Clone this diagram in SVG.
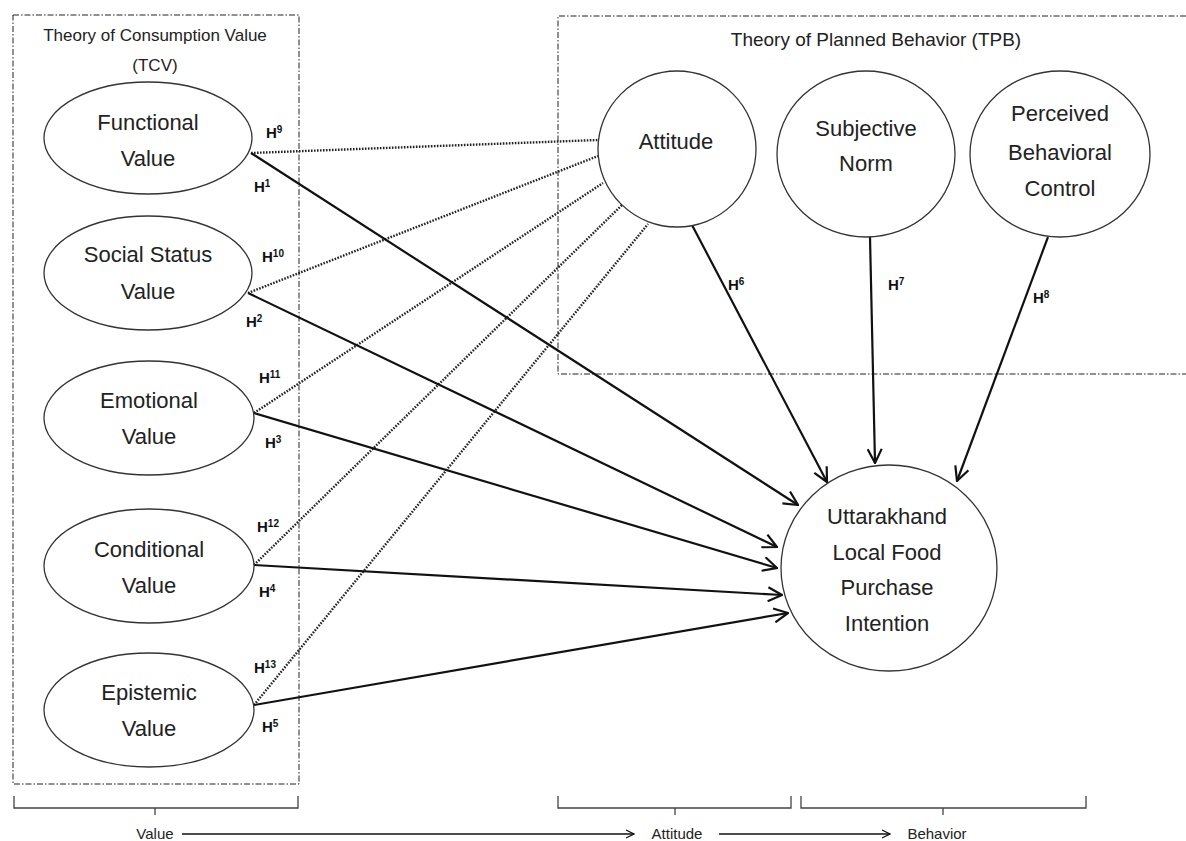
<svg xmlns="http://www.w3.org/2000/svg" width="1186" height="841" viewBox="0 0 1186 841">
<style>
.frame{fill:none;stroke:#222;stroke-width:1;stroke-dasharray:6 2 1.5 2}
.node{fill:#fff;stroke:#333;stroke-width:1.3}
.lbl{font-family:"Liberation Sans",Arial,sans-serif;font-size:22px;fill:#222;text-anchor:middle}
.title{font-family:"Liberation Sans",Arial,sans-serif;fill:#222;text-anchor:middle}
.h{font-family:"Liberation Sans",Arial,sans-serif;font-size:15px;font-weight:bold;fill:#111}
.sup{font-size:10px}
.solid{fill:none;stroke:#111;stroke-width:2.2;marker-end:url(#arr)}
.dot{fill:none;stroke:#222;stroke-width:2.4;stroke-dasharray:1.6 1.4}
.brace{fill:none;stroke:#444;stroke-width:1.3}
.flow{fill:none;stroke:#111;stroke-width:1.3;marker-end:url(#sarr)}
.axis{font-family:"Liberation Sans",Arial,sans-serif;font-size:15px;fill:#222;text-anchor:middle}
</style>
<defs>
<marker id="arr" viewBox="0 0 16 16" refX="15" refY="8" markerWidth="16" markerHeight="16" markerUnits="userSpaceOnUse" orient="auto">
<path d="M1,1 L15,8 L1,15" fill="none" stroke="#111" stroke-width="2.2"/>
</marker>
<marker id="sarr" viewBox="0 0 10 10" refX="9" refY="5" markerWidth="10" markerHeight="10" markerUnits="userSpaceOnUse" orient="auto">
<path d="M1,1 L9,5 L1,9" fill="none" stroke="#111" stroke-width="1.3"/>
</marker>
</defs>
<rect width="1186" height="841" fill="#fff"/>

<g id="tcv-frame">
<rect class="frame" x="13" y="15" width="286" height="769"/>
<text class="title" x="155" y="41" font-size="17">Theory of Consumption Value</text>
<text class="title" x="155" y="71" font-size="17">(TCV)</text>
</g>
<g id="tpb-frame">
<path class="frame" d="M1186,16 H558 V374 H1186"/>
<text class="title" x="876" y="46" font-size="19">Theory of Planned Behavior (TPB)</text>
</g>

<g id="connectors">
<path class="dot" d="M251,153 L598,140"/>
<path class="dot" d="M248,293 L598,156"/>
<path class="dot" d="M254,413 L603,183"/>
<path class="dot" d="M254,565 L622,205"/>
<path class="dot" d="M254,705 L648,224"/>
<path class="solid" d="M251,153 L798,505"/>
<path class="solid" d="M248,293 L777,547"/>
<path class="solid" d="M254,413 L777,568"/>
<path class="solid" d="M254,565 L782,595"/>
<path class="solid" d="M254,705 L788,613"/>
<path class="solid" d="M692,225 L827,482"/>
<path class="solid" d="M870,237 L875,463"/>
<path class="solid" d="M1048,237 L957,481"/>
<text class="h" x="266" y="138">H<tspan class="sup" dy="-5">9</tspan></text>
<text class="h" x="254" y="192">H<tspan class="sup" dy="-5">1</tspan></text>
<text class="h" x="262" y="262">H<tspan class="sup" dy="-5">10</tspan></text>
<text class="h" x="246" y="327">H<tspan class="sup" dy="-5">2</tspan></text>
<text class="h" x="259" y="383">H<tspan class="sup" dy="-5">11</tspan></text>
<text class="h" x="265" y="448">H<tspan class="sup" dy="-5">3</tspan></text>
<text class="h" x="257" y="532">H<tspan class="sup" dy="-5">12</tspan></text>
<text class="h" x="259" y="597">H<tspan class="sup" dy="-5">4</tspan></text>
<text class="h" x="254" y="673">H<tspan class="sup" dy="-5">13</tspan></text>
<text class="h" x="262" y="732">H<tspan class="sup" dy="-5">5</tspan></text>
<text class="h" x="728" y="290">H<tspan class="sup" dy="-5">6</tspan></text>
<text class="h" x="888" y="290">H<tspan class="sup" dy="-5">7</tspan></text>
<text class="h" x="1033" y="303">H<tspan class="sup" dy="-5">8</tspan></text>
</g>

<g id="functional">
<ellipse class="node" cx="148" cy="138" rx="104" ry="56"/>
<text class="lbl" x="148" y="130">Functional</text>
<text class="lbl" x="148" y="166">Value</text>
</g>
<g id="social">
<ellipse class="node" cx="148" cy="273" rx="104" ry="57"/>
<text class="lbl" x="148" y="262">Social Status</text>
<text class="lbl" x="148" y="299">Value</text>
</g>
<g id="emotional">
<ellipse class="node" cx="149" cy="418" rx="105" ry="57"/>
<text class="lbl" x="149" y="408">Emotional</text>
<text class="lbl" x="149" y="444">Value</text>
</g>
<g id="conditional">
<ellipse class="node" cx="149" cy="566" rx="105" ry="57"/>
<text class="lbl" x="149" y="557">Conditional</text>
<text class="lbl" x="149" y="593">Value</text>
</g>
<g id="epistemic">
<ellipse class="node" cx="149" cy="710" rx="105" ry="57"/>
<text class="lbl" x="149" y="700">Epistemic</text>
<text class="lbl" x="149" y="736">Value</text>
</g>

<g id="attitude">
<ellipse class="node" cx="677" cy="149" rx="79" ry="78"/>
<text class="lbl" x="676" y="149">Attitude</text>
</g>
<g id="subjective-norm">
<ellipse class="node" cx="866" cy="154" rx="89" ry="83"/>
<text class="lbl" x="866" y="136">Subjective</text>
<text class="lbl" x="866" y="171">Norm</text>
</g>
<g id="pbc">
<ellipse class="node" cx="1060" cy="154" rx="90" ry="83"/>
<text class="lbl" x="1060" y="121">Perceived</text>
<text class="lbl" x="1060" y="160">Behavioral</text>
<text class="lbl" x="1060" y="196">Control</text>
</g>
<g id="intention">
<ellipse class="node" cx="889" cy="568" rx="108" ry="103"/>
<text class="lbl" x="887" y="524">Uttarakhand</text>
<text class="lbl" x="887" y="560">Local Food</text>
<text class="lbl" x="887" y="595">Purchase</text>
<text class="lbl" x="887" y="631">Intention</text>
</g>

<g id="axis">
<path class="brace" d="M14,796 V808 H298 V796 M155,808 V815"/>
<path class="brace" d="M558,796 V808 H791 V796 M675,808 V815"/>
<path class="brace" d="M801,796 V808 H1086 V796 M943,808 V815"/>
<text class="axis" x="155" y="839">Value</text>
<path class="flow" d="M182,834 H634"/>
<text class="axis" x="677" y="839">Attitude</text>
<path class="flow" d="M719,834 H890"/>
<text class="axis" x="937" y="839">Behavior</text>
</g>
</svg>
